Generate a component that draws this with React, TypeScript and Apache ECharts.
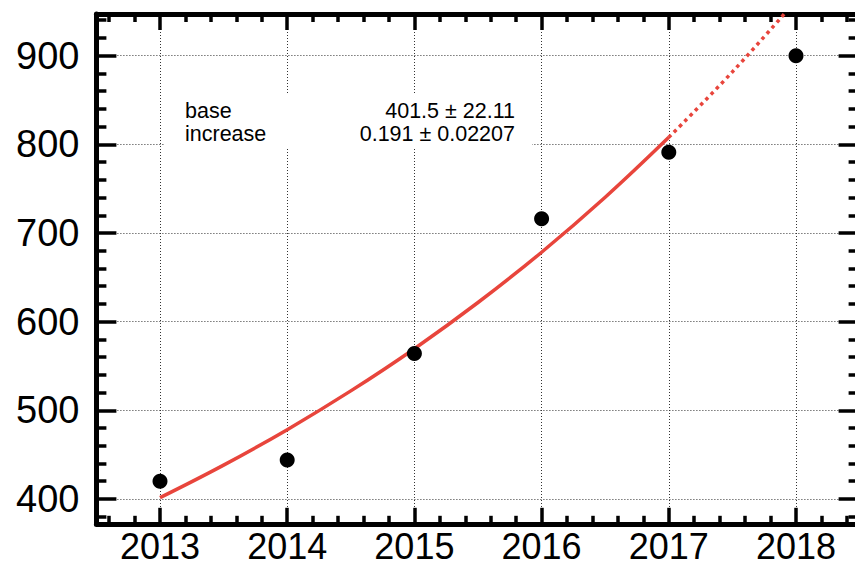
import React, { useEffect, useRef } from "react";
import * as echarts from "echarts";

// Observations (year, count)
const years = [2013, 2014, 2015, 2016, 2017, 2018];
const counts = [420, 444, 564, 716, 791, 900];

// Fitted curve, every half year
const fitYearsSolid = [2013, 2013.5, 2014, 2014.5, 2015, 2015.5, 2016, 2016.5, 2017];
const fitValuesSolid = [401.5, 438.2, 478.2, 521.9, 569.5, 621.6, 678.3, 740.3, 807.9];
const fitYearsDotted = [2017, 2017.5, 2018];
const fitValuesDotted = [807.9, 881.7, 962.2];

// Tick labels
const xMajor = [2013, 2014, 2015, 2016, 2017, 2018];
const yMajor = [400, 500, 600, 700, 800, 900];

// Fit annotation
const paramNames = ["base", "increase"];
const paramValues = ["401.5 ± 22.11", "0.191 ± 0.02207"];

const X_MIN = 2012.5;
const X_MAX = 2018.5;
const Y_MIN = 372;
const Y_MAX = 947;

function minorOf(major: number[], step: number, lo: number, hi: number, parts: number) {
  const out: number[] = [];
  const first = major[0] - step;
  for (let m = first; m <= major[major.length - 1] + step; m += step) {
    for (let k = 1; k < parts; k++) {
      const v = Math.round((m + (k * step) / parts) * 1000) / 1000;
      if (v > lo && v < hi) out.push(v);
    }
  }
  return out;
}

const CHART_W = 875;

export default function App() {
  const ref = useRef<HTMLDivElement>(null);
  useEffect(() => {
    if (!ref.current) return;
    const chart = echarts.init(ref.current, undefined, { renderer: "svg" });
    const xMinor = minorOf(xMajor, 1, X_MIN, X_MAX, 5);
    const yMinor = minorOf(yMajor, 100, Y_MIN, Y_MAX, 5);
    const font = "'Liberation Sans', Helvetica, Arial, sans-serif";
    const border = { show: true, lineStyle: { color: "#000", width: 5 } };
    const tickStyle = { color: "#000", width: 3.5 };
    const grid = { color: "#333", width: 1, type: [1, 2] as number[] };

    const xBase = { type: "value" as const, min: X_MIN, max: X_MAX, gridIndex: 0 };
    const yBase = { type: "value" as const, min: Y_MIN, max: Y_MAX, gridIndex: 0 };

    chart.setOption({
      animation: false,
      backgroundColor: "#fff",
      grid: { left: 96.4, right: CHART_W - 859.6, top: 14, bottom: 44.2, containLabel: false },
      xAxis: [
        {
          ...xBase,
          position: "bottom",
          axisLine: border,
          axisTick: { show: true, inside: true, length: 16, lineStyle: tickStyle, customValues: xMajor },
          axisLabel: {
            show: true,
            customValues: xMajor,
            formatter: (v: number) => String(Math.round(v)),
            fontSize: 36,
            lineHeight: 30,
            fontFamily: font,
            color: "#000",
            margin: 8,
          },
          splitLine: { show: true, lineStyle: grid },
        },
        {
          ...xBase,
          position: "bottom",
          axisLine: { show: false },
          axisTick: { show: true, inside: true, length: 8, lineStyle: tickStyle, customValues: xMinor },
          axisLabel: { show: false },
          splitLine: { show: false },
        },
        {
          ...xBase,
          position: "top",
          axisLine: border,
          axisTick: { show: true, inside: true, length: 16, lineStyle: tickStyle, customValues: xMajor },
          axisLabel: { show: false },
          splitLine: { show: false },
        },
        {
          ...xBase,
          position: "top",
          axisLine: { show: false },
          axisTick: { show: true, inside: true, length: 8, lineStyle: tickStyle, customValues: xMinor },
          axisLabel: { show: false },
          splitLine: { show: false },
        },
      ],
      yAxis: [
        {
          ...yBase,
          position: "left",
          axisLine: border,
          axisTick: { show: true, inside: true, length: 20, lineStyle: tickStyle, customValues: yMajor },
          axisLabel: {
            show: true,
            customValues: yMajor,
            formatter: (v: number) => String(Math.round(v)),
            fontSize: 38,
            fontFamily: font,
            color: "#000",
            margin: 17,
          },
          splitLine: { show: true, lineStyle: grid },
        },
        {
          ...yBase,
          position: "left",
          axisLine: { show: false },
          axisTick: { show: true, inside: true, length: 10, lineStyle: tickStyle, customValues: yMinor },
          axisLabel: { show: false },
          splitLine: { show: false },
        },
        {
          ...yBase,
          position: "right",
          axisLine: { show: false },
          axisTick: { show: true, inside: true, length: 21, lineStyle: tickStyle, customValues: yMajor },
          axisLabel: { show: false },
          splitLine: { show: false },
        },
        {
          ...yBase,
          position: "right",
          axisLine: { show: false },
          axisTick: { show: true, inside: true, length: 11, lineStyle: tickStyle, customValues: yMinor },
          axisLabel: { show: false },
          splitLine: { show: false },
        },
      ],
      series: [
        {
          type: "line",
          xAxisIndex: 0,
          yAxisIndex: 0,
          data: fitYearsSolid.map((x, i) => [x, fitValuesSolid[i]]),
          smooth: 0.4,
          showSymbol: false,
          symbol: "none",
          lineStyle: { color: "#e8453c", width: 3.5 },
          z: 3,
        },
        {
          type: "line",
          xAxisIndex: 0,
          yAxisIndex: 0,
          data: fitYearsDotted.map((x, i) => [x, fitValuesDotted[i]]),
          smooth: 0.4,
          showSymbol: false,
          symbol: "none",
          lineStyle: { color: "#e8453c", width: 3.5, type: [3.5, 4], cap: "butt" },
          z: 3,
        },
        {
          type: "scatter",
          xAxisIndex: 0,
          yAxisIndex: 0,
          data: years.map((x, i) => [x, counts[i]]),
          symbol: "circle",
          symbolSize: 15,
          itemStyle: { color: "#000", opacity: 1 },
          z: 4,
        },
      ],
      graphic: [
        {
          type: "rect",
          shape: { x: 165, y: 93, width: 367, height: 55 },
          style: { fill: "#fff" },
          z: 5,
        },
        {
          type: "text",
          x: 185,
          y: 99.5,
          style: {
            text: paramNames.join("\n"),
            fontSize: 21.5,
            lineHeight: 23,
            fontFamily: font,
            fill: "#000",
            align: "left",
            verticalAlign: "top",
          },
          z: 6,
        },
        {
          type: "text",
          x: 515,
          y: 99.5,
          style: {
            text: paramValues.join("\n"),
            fontSize: 21.5,
            lineHeight: 23,
            fontFamily: font,
            fill: "#000",
            align: "right",
            verticalAlign: "top",
          },
          z: 6,
        },
      ],
    });
    return () => chart.dispose();
  }, []);
  return (
    <div style={{ position: "fixed", left: 0, top: 0, width: 855, height: 568, overflow: "hidden", background: "#fff" }}>
      <div ref={ref} style={{ width: CHART_W, height: 568 }} />
    </div>
  );
}
